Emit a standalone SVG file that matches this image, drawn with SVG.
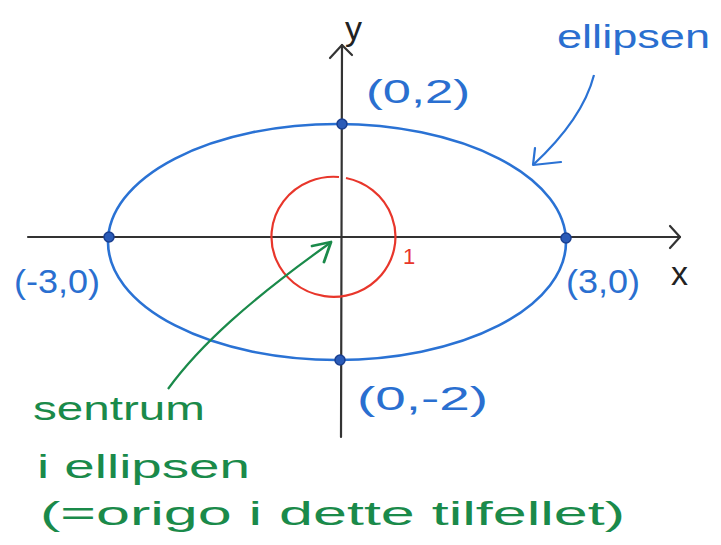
<svg xmlns="http://www.w3.org/2000/svg" width="721" height="545" viewBox="0 0 721 545">
<style>
.ax{stroke:#333;stroke-width:2.2;fill:none;stroke-linecap:round;stroke-linejoin:round}
.blue{stroke:#2a72d4;stroke-width:2.6;fill:none}
.dot{fill:#2a5bb8;stroke:#1a3f90;stroke-width:1.5}
.bt{fill:#2a6fd0;font-family:"Liberation Sans",sans-serif;font-size:34px}
.gt{fill:#1a8a4a;font-family:"Liberation Sans",sans-serif;font-size:33px}
.kt{fill:#222;font-family:"Liberation Sans",sans-serif;font-size:34px}
</style>
<rect width="721" height="545" fill="#fff"/>
<g id="axes">
<line class="ax" x1="28" y1="237" x2="680" y2="237"/>
<polyline class="ax" points="670,226 680,237 670,248"/>
<line class="ax" x1="342" y1="45" x2="341" y2="437"/>
<polyline class="ax" points="330,58 342,45 352,55"/>
<text class="kt" x="345" y="40">y</text>
<text class="kt" x="671" y="285">x</text>
</g>
<g id="ellipse">
<ellipse class="blue" cx="337" cy="242" rx="229" ry="118"/>
<circle class="dot" cx="342" cy="124" r="5"/>
<circle class="dot" cx="340" cy="360" r="5"/>
<circle class="dot" cx="109" cy="237" r="5"/>
<circle class="dot" cx="566" cy="238" r="5"/>
<text class="bt" x="557" y="48" textLength="153" lengthAdjust="spacingAndGlyphs">ellipsen</text>
<text class="bt" x="366" y="103" textLength="104" lengthAdjust="spacingAndGlyphs">(0,2)</text>
<text class="bt" x="14" y="293" textLength="86" lengthAdjust="spacingAndGlyphs">(-3,0)</text>
<text class="bt" x="566" y="293" textLength="74" lengthAdjust="spacingAndGlyphs">(3,0)</text>
<text class="bt" x="357" y="410" textLength="131" lengthAdjust="spacingAndGlyphs">(0,-2)</text>
</g>
<g id="circle">
<path d="M346,178 A62,60 0 1 1 339,177" fill="none" stroke="#e8362b" stroke-width="2.2"/>
<text x="403" y="264" fill="#e8362b" font-family="Liberation Sans,sans-serif" font-size="22">1</text>
</g>
<g id="center-label">
<text class="gt" x="33" y="420" textLength="172" lengthAdjust="spacingAndGlyphs">sentrum</text>
<text class="gt" x="37" y="478" textLength="213" lengthAdjust="spacingAndGlyphs">i ellipsen</text>
<text class="gt" x="40" y="525" textLength="585" lengthAdjust="spacingAndGlyphs">(=origo i dette tilfellet)</text>
</g>
<g id="connectors">
<path d="M168,389 C200,345 250,300 330,243" fill="none" stroke="#1a8a4a" stroke-width="2.2"/>
<polyline points="312,246 331,242 324,262" fill="none" stroke="#1a8a4a" stroke-width="2.8" stroke-linecap="round" stroke-linejoin="round"/>
<path d="M594,75 C585,110 560,140 533,165" fill="none" stroke="#2a72d4" stroke-width="2.2"/>
<polyline points="535,148 533,165 561,162" fill="none" stroke="#2a72d4" stroke-width="2.2" stroke-linecap="round" stroke-linejoin="round"/>
</g>
</svg>
